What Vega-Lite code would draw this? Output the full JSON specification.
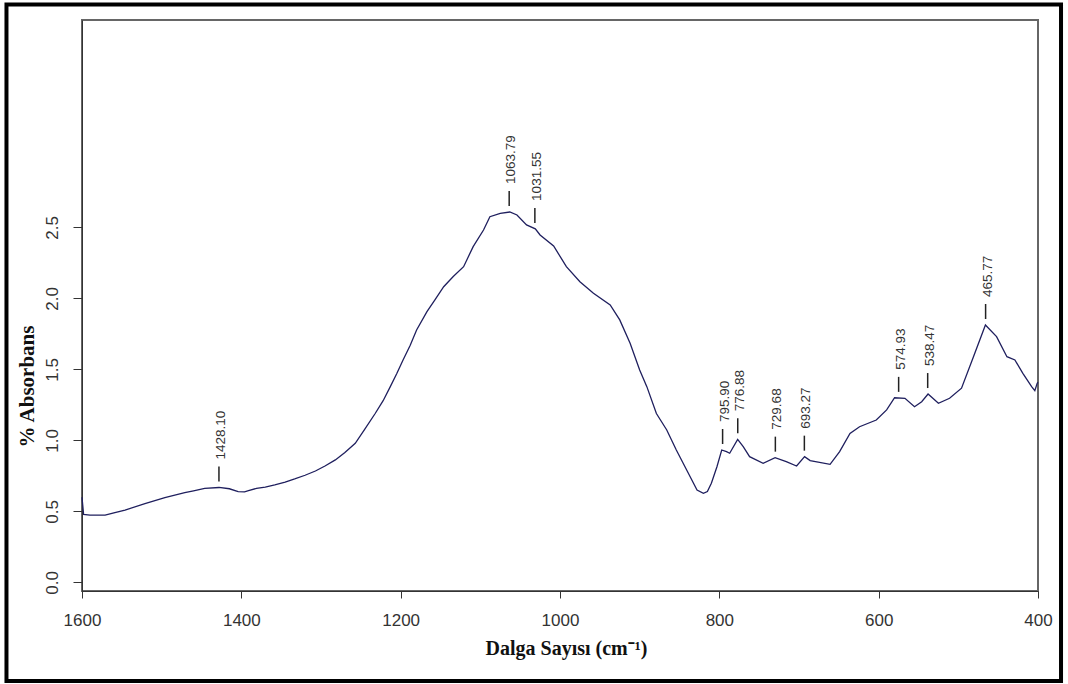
{
  "$schema": "https://vega.github.io/schema/vega-lite/v6.json",
  "width": 956,
  "height": 571,
  "autosize": {"type": "none"},
  "padding": {"left": 82, "top": 20, "right": 30, "bottom": 93},
  "background": "white",
  "config": {
    "view": {"stroke": "#666", "strokeWidth": 2},
    "axis": {"grid": false}
  },
  "resolve": {"axis": {"x": "independent", "y": "independent"}},
  "datasets": {
    "spectrum": [
      {"wn": 1600, "a": 0.60}, {"wn": 1598, "a": 0.48}, {"wn": 1590, "a": 0.474}, {"wn": 1571, "a": 0.475},
      {"wn": 1560, "a": 0.49}, {"wn": 1546, "a": 0.51}, {"wn": 1521, "a": 0.555}, {"wn": 1496, "a": 0.597},
      {"wn": 1471, "a": 0.632}, {"wn": 1460, "a": 0.645}, {"wn": 1446, "a": 0.662}, {"wn": 1428, "a": 0.669},
      {"wn": 1415, "a": 0.66}, {"wn": 1404, "a": 0.64}, {"wn": 1396, "a": 0.638}, {"wn": 1391, "a": 0.646},
      {"wn": 1381, "a": 0.663}, {"wn": 1370, "a": 0.672}, {"wn": 1358, "a": 0.687}, {"wn": 1345, "a": 0.707},
      {"wn": 1333, "a": 0.729}, {"wn": 1320, "a": 0.755}, {"wn": 1307, "a": 0.785}, {"wn": 1295, "a": 0.82},
      {"wn": 1282, "a": 0.863}, {"wn": 1270, "a": 0.915}, {"wn": 1257, "a": 0.98}, {"wn": 1245, "a": 1.08},
      {"wn": 1232, "a": 1.19}, {"wn": 1222, "a": 1.28}, {"wn": 1213, "a": 1.379}, {"wn": 1205, "a": 1.47},
      {"wn": 1197, "a": 1.567}, {"wn": 1188, "a": 1.67}, {"wn": 1180, "a": 1.778}, {"wn": 1167, "a": 1.907},
      {"wn": 1157, "a": 1.99}, {"wn": 1146, "a": 2.083}, {"wn": 1134, "a": 2.155}, {"wn": 1121, "a": 2.224},
      {"wn": 1109, "a": 2.365}, {"wn": 1096, "a": 2.482}, {"wn": 1088, "a": 2.576}, {"wn": 1075, "a": 2.6},
      {"wn": 1063, "a": 2.609}, {"wn": 1054, "a": 2.588}, {"wn": 1042, "a": 2.518}, {"wn": 1031, "a": 2.49},
      {"wn": 1025, "a": 2.447}, {"wn": 1008, "a": 2.37}, {"wn": 992, "a": 2.224}, {"wn": 975, "a": 2.118},
      {"wn": 958, "a": 2.037}, {"wn": 937, "a": 1.954}, {"wn": 925, "a": 1.849}, {"wn": 912, "a": 1.684},
      {"wn": 900, "a": 1.496}, {"wn": 891, "a": 1.379}, {"wn": 879, "a": 1.19}, {"wn": 866, "a": 1.074},
      {"wn": 854, "a": 0.933}, {"wn": 841, "a": 0.792}, {"wn": 828, "a": 0.651}, {"wn": 820, "a": 0.628},
      {"wn": 815, "a": 0.64}, {"wn": 810, "a": 0.699}, {"wn": 803, "a": 0.815}, {"wn": 797, "a": 0.933},
      {"wn": 791, "a": 0.921}, {"wn": 787, "a": 0.91}, {"wn": 777, "a": 1.008}, {"wn": 770, "a": 0.956},
      {"wn": 762, "a": 0.886}, {"wn": 745, "a": 0.839}, {"wn": 730, "a": 0.879}, {"wn": 716, "a": 0.851},
      {"wn": 703, "a": 0.82}, {"wn": 693, "a": 0.886}, {"wn": 686, "a": 0.858}, {"wn": 661, "a": 0.832},
      {"wn": 649, "a": 0.921}, {"wn": 636, "a": 1.05}, {"wn": 624, "a": 1.097}, {"wn": 603, "a": 1.144},
      {"wn": 590, "a": 1.215}, {"wn": 580, "a": 1.301}, {"wn": 567, "a": 1.297}, {"wn": 555, "a": 1.238},
      {"wn": 546, "a": 1.273}, {"wn": 538, "a": 1.327}, {"wn": 525, "a": 1.262}, {"wn": 511, "a": 1.297},
      {"wn": 496, "a": 1.368}, {"wn": 481, "a": 1.59}, {"wn": 466, "a": 1.813}, {"wn": 452, "a": 1.731},
      {"wn": 439, "a": 1.59}, {"wn": 429, "a": 1.567}, {"wn": 419, "a": 1.473}, {"wn": 408, "a": 1.379},
      {"wn": 404, "a": 1.351}, {"wn": 401, "a": 1.403}, {"wn": 400, "a": 1.41}
    ],
    "peaks": [
      {"wn": 1428.10, "a": 0.669, "label": "1428.10"},
      {"wn": 1063.79, "a": 2.609, "label": "1063.79"},
      {"wn": 1031.55, "a": 2.49, "label": "1031.55"},
      {"wn": 795.90, "a": 0.933, "label": "795.90"},
      {"wn": 776.88, "a": 1.008, "label": "776.88"},
      {"wn": 729.68, "a": 0.879, "label": "729.68"},
      {"wn": 693.27, "a": 0.886, "label": "693.27"},
      {"wn": 574.93, "a": 1.30, "label": "574.93"},
      {"wn": 538.47, "a": 1.327, "label": "538.47"},
      {"wn": 465.77, "a": 1.813, "label": "465.77"}
    ]
  },
  "layer": [
    {
      "data": {"name": "spectrum"},
      "mark": {"type": "line", "color": "#1f1f5e", "strokeWidth": 1.3},
      "encoding": {
        "x": {
          "field": "wn", "type": "quantitative",
          "scale": {"domain": [400, 1600], "reverse": true, "nice": false, "zero": false},
          "axis": {
            "values": [400, 600, 800, 1000, 1200, 1400, 1600],
            "format": "d",
            "title": "Dalga Sayısı (cm⁻¹)",
            "labelFont": "Liberation Sans", "labelFontSize": 17, "labelColor": "#333",
            "labelPadding": 14, "labelFlush": false, "labelOverlap": false,
            "tickSize": 7, "tickColor": "#333", "tickWidth": 1,
            "domainColor": "#333", "domainWidth": 1,
            "titleFont": "Liberation Serif", "titleFontSize": 20, "titleFontWeight": "bold", "titleColor": "#111",
            "titleX": 484, "titleY": 63, "titleAlign": "center", "titleBaseline": "alphabetic"
          }
        },
        "y": {
          "field": "a", "type": "quantitative",
          "scale": {"domain": [-0.06, 3.961], "nice": false, "zero": false},
          "axis": {
            "values": [0, 0.5, 1, 1.5, 2, 2.5],
            "format": ".1f",
            "title": "% Absorbans",
            "labelFont": "Liberation Sans", "labelFontSize": 17, "labelColor": "#333",
            "labelAngle": 270, "labelAlign": "center", "labelBaseline": "bottom",
            "labelPadding": 12, "labelOverlap": false, "labelFlush": false,
            "tickSize": 9, "tickColor": "#333", "tickWidth": 1,
            "domainColor": "#333", "domainWidth": 1,
            "titleFont": "Liberation Serif", "titleFontSize": 21, "titleFontWeight": "bold", "titleColor": "#111",
            "titleAngle": 270, "titleX": -45, "titleY": 366, "titleAlign": "center", "titleBaseline": "bottom"
          }
        }
      }
    },
    {
      "data": {"name": "peaks"},
      "mark": {"type": "rule", "color": "#222", "strokeWidth": 1.5, "yOffset": -21, "y2Offset": -6},
      "encoding": {
        "x": {"field": "wn", "type": "quantitative", "scale": {"domain": [400, 1600], "reverse": true, "nice": false, "zero": false}, "axis": null},
        "y": {"field": "a", "type": "quantitative", "scale": {"domain": [-0.06, 3.961], "nice": false, "zero": false}, "axis": null},
        "y2": {"field": "a"}
      }
    },
    {
      "data": {"name": "peaks"},
      "mark": {"type": "text", "angle": 270, "align": "left", "baseline": "middle", "font": "Liberation Sans", "fontSize": 13.5, "color": "#333", "yOffset": -28, "xOffset": 2},
      "encoding": {
        "x": {"field": "wn", "type": "quantitative", "scale": {"domain": [400, 1600], "reverse": true, "nice": false, "zero": false}, "axis": null},
        "y": {"field": "a", "type": "quantitative", "scale": {"domain": [-0.06, 3.961], "nice": false, "zero": false}, "axis": null},
        "text": {"field": "label", "type": "nominal"}
      }
    },
    {
      "data": {"values": [{}]},
      "mark": {"type": "rect", "filled": false, "stroke": "#000", "strokeWidth": 4},
      "encoding": {
        "x": {"datum": 1694.8, "type": "quantitative", "scale": {"domain": [400, 1600], "reverse": true, "nice": false, "zero": false}, "axis": null},
        "x2": {"datum": 371.1},
        "y": {"datum": 4.07, "type": "quantitative", "scale": {"domain": [-0.06, 3.961], "nice": false, "zero": false}, "axis": null},
        "y2": {"datum": -0.694}
      }
    }
  ]
}
